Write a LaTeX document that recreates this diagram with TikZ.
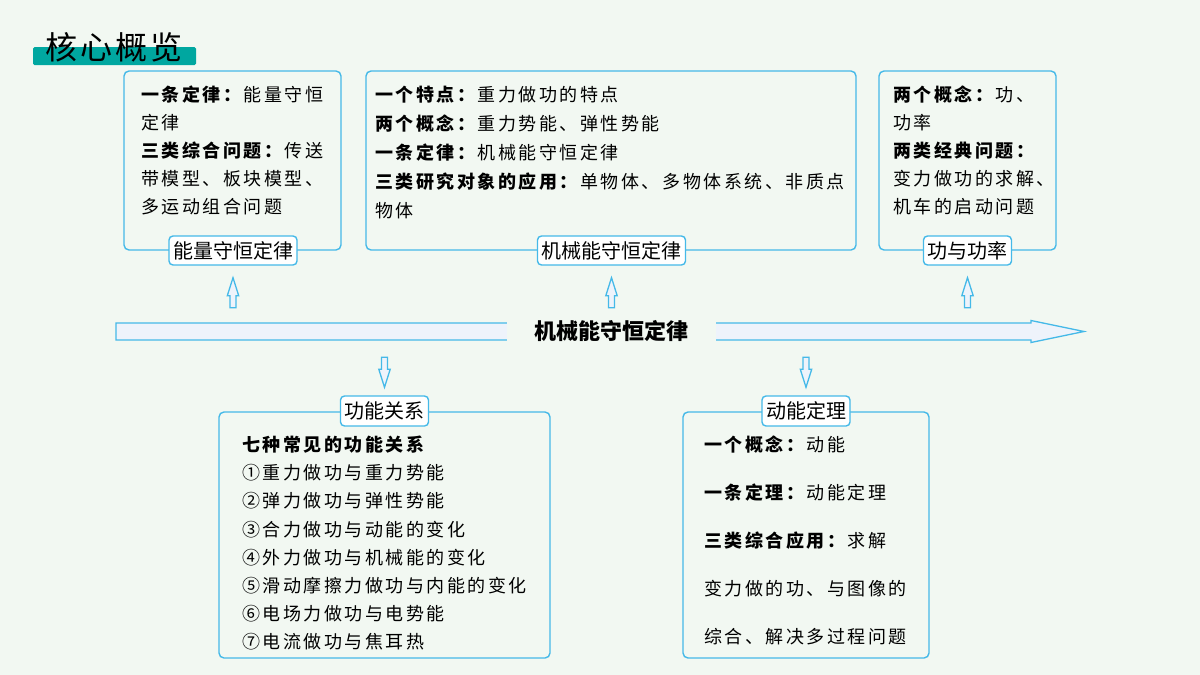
\documentclass[tikz,border=0pt]{standalone}
\usepackage{fontspec}
\newfontfamily\cjk[LetterSpace=14]{Noto Sans CJK SC}
\newfontfamily\cjkl{Noto Sans CJK SC}
\usetikzlibrary{calc}
\definecolor{bg}{HTML}{F2F8F2}
\definecolor{bline}{HTML}{45B9E8}
\definecolor{afill}{HTML}{EEF3FB}
\definecolor{teal1}{HTML}{00A7A0}
\tikzset{
  box/.style={draw=bline, line width=1.4pt, rounded corners=5pt, inner sep=0pt},
  lab/.style={draw=bline, line width=1.4pt, fill=white, rounded corners=4pt,
    font=\cjkl\fontsize{20}{24}\selectfont, inner xsep=4pt, inner ysep=0pt, minimum height=29pt},
  body/.style={anchor=north west, inner sep=0pt, align=left},
  arr/.style={draw=bline, fill=afill, line width=1.3pt, line join=miter},
  uparrow/.pic={\draw[arr] (0,0) -- (5.7,18) -- (3,18) -- (3,30) -- (-3,30) -- (-3,18) -- (-5.7,18) -- cycle;},
  downarrow/.pic={\draw[arr] (-3,0) -- (3,0) -- (3,12) -- (5.7,12) -- (0,30) -- (-5.7,12) -- (-3,12) -- cycle;}
}
\begin{document}
\begin{tikzpicture}[x=1pt,y=-1pt]
\fill[bg] (0,0) rectangle (1200,675);
\useasboundingbox (0,0) rectangle (1200,675);
% title
\fill[teal1, rounded corners=1.5pt] (33,47) rectangle (196,65);
\node[anchor=base west, inner sep=0pt, font=\cjkl\fontsize{32}{36}\selectfont] (title) at (45,59) {核\kern3pt 心\kern3pt 概\kern3pt 览};
% top boxes
\node[box, minimum width=217pt, minimum height=179pt] (b1) at (232.5,160.5) {};
\node[box, minimum width=490pt, minimum height=179pt] (b2) at (611,160.5) {};
\node[box, minimum width=177pt, minimum height=179pt] (b3) at (967.5,160.5) {};
\node[lab] (l1) at (233,250.5) {能量守恒定律};
\node[lab] (l2) at (611.5,250.5) {机械能守恒定律};
\node[lab] (l3) at (967.5,250.5) {功与功率};
\node[body, font=\cjk\fontsize{18}{28}\selectfont] (t1) at (141,86)
  {\textbf{一条定律：}能量守恒\\定律\\\textbf{三类综合问题：}传送\\带模型、板块模型、\\多运动组合问题};
\node[body, font=\cjk\fontsize{18}{29}\selectfont] (t2) at (375,86)
  {\textbf{一个特点：}重力做功的特点\\\textbf{两个概念：}重力势能、弹性势能\\\textbf{一条定律：}机械能守恒定律\\\textbf{三类研究对象的应用：}单物体、多物体系统、非质点\\物体};
\node[body, font=\cjk\fontsize{18}{28}\selectfont] (t3) at (893,86)
  {\textbf{两个概念：}功、\\功率\\\textbf{两类经典问题：}\\变力做功的求解、\\机车的启动问题};
% main arrow
\draw[arr] (116,323) -- (1031,323) -- (1031,320.5) -- (1084,331.5) -- (1031,342.5) -- (1031,340) -- (116,340) -- cycle;
\node[fill=bg, inner sep=0pt, minimum width=209pt, minimum height=30pt,
  font=\cjkl\bfseries\fontsize{22}{26}\selectfont] (main) at (611,331) {机械能守恒定律};
% bottom boxes
\node[box, minimum width=331pt, minimum height=246pt] (b4) at (384.5,535) {};
\node[box, minimum width=246pt, minimum height=246pt] (b5) at (806,535) {};
\node[lab, minimum height=30pt] (l4) at (384.5,411) {功能关系};
\node[lab, minimum height=30pt] (l5) at (806,411) {动能定理};
\node[body, font=\cjk\fontsize{18}{28.1}\selectfont] (t4) at (242,436)
  {\textbf{七种常见的功能关系}\\①重力做功与重力势能\\②弹力做功与弹性势能\\③合力做功与动能的变化\\④外力做功与机械能的变化\\⑤滑动摩擦力做功与内能的变化\\⑥电场力做功与电势能\\⑦电流做功与焦耳热};
\node[body, font=\cjk\fontsize{18}{48}\selectfont] (t5) at (704,436)
  {\textbf{一个概念：}动能\\\textbf{一条定理：}动能定理\\\textbf{三类综合应用：}求解\\变力做的功、与图像的\\综合、解决多过程问题};
% small arrows linking labels and main arrow
\pic at ($(l1.south)+(0,12)$) {uparrow};
\pic at ($(l2.south)+(0,12)$) {uparrow};
\pic at ($(l3.south)+(0,12)$) {uparrow};
\pic at ($(l4.north)+(0,-38)$) {downarrow};
\pic at ($(l5.north)+(0,-38)$) {downarrow};
\end{tikzpicture}
\end{document}
